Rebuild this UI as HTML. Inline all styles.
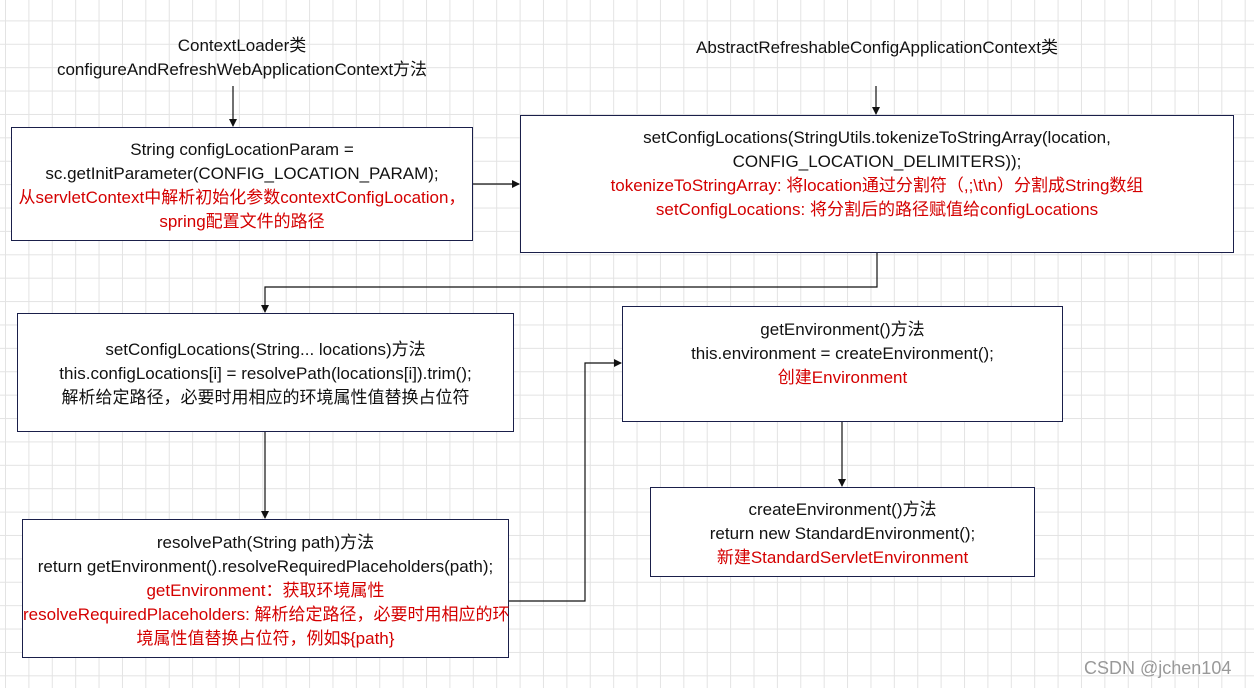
<!DOCTYPE html>
<html><head><meta charset="utf-8"><style>
body{margin:0;width:1254px;height:688px;overflow:hidden;background:#fff;
background-image:linear-gradient(#e3e3e3 1px,transparent 1px),linear-gradient(90deg,#e3e3e3 1px,transparent 1px);
background-size:23.4px 23.4px;background-position:5px -3px;
font-family:"Liberation Sans","Noto Sans CJK SC",sans-serif;font-size:17px;color:#111;position:relative}
.b{position:absolute;border:1.3px solid #1a1f4a;background:#fff;box-sizing:border-box;text-align:center;line-height:24px;white-space:nowrap}
.t{position:absolute;text-align:center;line-height:24px;white-space:nowrap}
.r{color:#d40000}
svg{position:absolute;left:0;top:0}
</style></head><body>
<svg width="1254" height="688">
<defs><marker id="a" markerWidth="8" markerHeight="8" refX="7" refY="4" orient="auto" markerUnits="userSpaceOnUse"><path d="M0,0L8,4L0,8z" fill="#111"/></marker></defs>
<g stroke="#111" stroke-width="1.2" fill="none">
<path d="M233,86V126" marker-end="url(#a)"/>
<path d="M876,86V114" marker-end="url(#a)"/>
<path d="M472,184H519" marker-end="url(#a)"/>
<path d="M877,252V287H265V312" marker-end="url(#a)"/>
<path d="M265,431V518" marker-end="url(#a)"/>
<path d="M508,601H585V363H621" marker-end="url(#a)"/>
<path d="M842,421V486" marker-end="url(#a)"/>
</g></svg>
<div class="t" style="left:0;width:484px;top:34px">ContextLoader类<br>configureAndRefreshWebApplicationContext方法</div>
<div class="t" style="left:520px;width:714px;top:36px">AbstractRefreshableConfigApplicationContext类</div>
<div class="b" style="left:11px;top:127px;width:462px;height:114px;padding-top:10px">String configLocationParam =<br>sc.getInitParameter(CONFIG_LOCATION_PARAM);<br><span class="r">从servletContext中解析初始化参数contextConfigLocation，<br>spring配置文件的路径</span></div>
<div class="b" style="left:520px;top:115px;width:714px;height:138px;padding-top:10px">setConfigLocations(StringUtils.tokenizeToStringArray(location,<br>CONFIG_LOCATION_DELIMITERS));<br><span class="r">tokenizeToStringArray: 将location通过分割符（,;\t\n）分割成String数组<br>setConfigLocations: 将分割后的路径赋值给configLocations</span></div>
<div class="b" style="left:17px;top:313px;width:497px;height:119px;padding-top:24px">setConfigLocations(String... locations)方法<br>this.configLocations[i] = resolvePath(locations[i]).trim();<br>解析给定路径，必要时用相应的环境属性值替换占位符</div>
<div class="b" style="left:622px;top:306px;width:441px;height:116px;padding-top:11px">getEnvironment()方法<br>this.environment = createEnvironment();<br><span class="r">创建Environment</span></div>
<div class="b" style="left:650px;top:487px;width:385px;height:90px;padding-top:10px">createEnvironment()方法<br>return new StandardEnvironment();<br><span class="r">新建StandardServletEnvironment</span></div>
<div class="b" style="left:22px;top:519px;width:487px;height:139px;padding-top:11px">resolvePath(String path)方法<br>return getEnvironment().resolveRequiredPlaceholders(path);<br><span class="r">getEnvironment：获取环境属性<br>resolveRequiredPlaceholders: 解析给定路径，必要时用相应的环<br>境属性值替换占位符，例如${path}</span></div>
<div class="t" style="left:1084px;top:656px;color:#999;font-size:18px">CSDN @jchen104</div>
</body></html>
